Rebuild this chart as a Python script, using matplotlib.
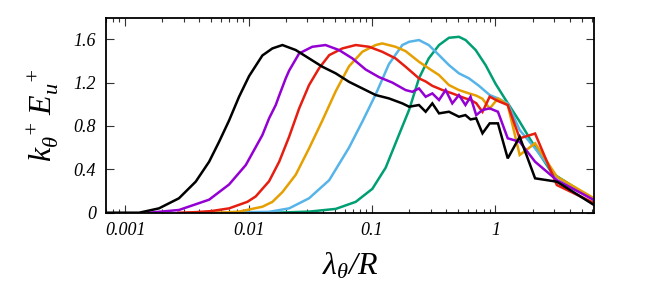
import numpy as np
import matplotlib
matplotlib.use("Agg")
import matplotlib.pyplot as plt
from matplotlib.ticker import FixedLocator, FixedFormatter, LogLocator, NullFormatter

# ---------------- data ----------------
black_lam = [0.0007, 0.0013, 0.00188, 0.00273, 0.00373, 0.00479, 0.00577, 0.00695, 0.00838,
             0.0101, 0.01294, 0.0156, 0.0188, 0.0241, 0.0309, 0.0396, 0.0508, 0.0651,
             0.0835, 0.107, 0.137, 0.176, 0.20, 0.24, 0.272, 0.308, 0.349, 0.42, 0.506,
             0.571, 0.628, 0.698, 0.785, 0.898, 1.047, 1.257, 1.571, 2.094, 3.142, 6.283]
black_E = [0.0, 0.0, 0.04, 0.133, 0.286, 0.47, 0.654, 0.85, 1.07,
           1.26, 1.45, 1.515, 1.546, 1.50, 1.423, 1.346, 1.285, 1.207,
           1.146, 1.085, 1.054, 1.008, 0.977, 0.993, 0.931, 1.008, 0.916, 0.931, 0.885,
           0.90, 0.86, 0.87, 0.732, 0.824, 0.824, 0.501, 0.70, 0.317, 0.286, 0.071]

purple_lam = [0.00156, 0.00273, 0.00479, 0.00695, 0.0095, 0.01294, 0.01466, 0.0166, 0.0177,
              0.02, 0.0213, 0.0257, 0.0328, 0.042, 0.054, 0.0693, 0.0889, 0.114, 0.146,
              0.187, 0.212, 0.24, 0.272, 0.308, 0.349, 0.395, 0.447, 0.506, 0.571, 0.628,
              0.698, 0.785, 0.898, 1.047, 1.257, 1.571, 2.094, 3.142, 6.283]
purple_E = [0.0, 0.025, 0.12, 0.26, 0.44, 0.716, 0.87, 0.993, 1.08,
            1.239, 1.31, 1.469, 1.53, 1.546, 1.50, 1.423, 1.32, 1.25, 1.20,
            1.131, 1.115, 1.146, 1.069, 1.10, 1.039, 1.131, 1.008, 1.085, 0.993, 1.069,
            0.90, 0.947, 0.962, 0.931, 0.686, 0.654, 0.47, 0.30, 0.117]

red_lam = [0.0027, 0.0037, 0.0050, 0.00695, 0.00977, 0.01143, 0.01466, 0.0177, 0.0213,
           0.0257, 0.0309, 0.0372, 0.045, 0.0576, 0.0738, 0.0946, 0.121, 0.155, 0.187,
           0.24, 0.272, 0.308, 0.372, 0.447, 0.524, 0.571, 0.628, 0.698, 0.785, 0.898,
           1.047, 1.257, 1.571, 2.094, 3.142, 6.283]
red_E = [0.0, 0.005, 0.015, 0.04, 0.10, 0.15, 0.29, 0.47, 0.70,
         0.962, 1.177, 1.331, 1.453, 1.515, 1.546, 1.53, 1.484, 1.423, 1.346,
         1.239, 1.21, 1.17, 1.131, 1.10, 1.07, 1.054, 1.04, 1.01, 0.93, 1.07,
         1.03, 0.993, 0.686, 0.73, 0.255, 0.09]

orange_lam = [0.0038, 0.0065, 0.00838, 0.01294, 0.0156, 0.0188, 0.0241, 0.0309, 0.0396,
              0.0508, 0.0651, 0.0835, 0.107, 0.121, 0.155, 0.187, 0.24, 0.288, 0.349,
              0.42, 0.506, 0.61, 0.698, 0.785, 0.898, 1.047, 1.257, 1.571, 2.094, 3.142, 6.283]
orange_E = [0.0, 0.003, 0.01, 0.055, 0.10, 0.19, 0.35, 0.593, 0.85,
            1.12, 1.35, 1.484, 1.546, 1.561, 1.53, 1.49, 1.392, 1.331, 1.269,
            1.177, 1.131, 1.10, 1.08, 1.05, 0.96, 1.054, 0.993, 0.532, 0.64, 0.332, 0.133]

blue_lam = [0.0055, 0.0147, 0.0213, 0.0309, 0.045, 0.0651, 0.0835, 0.107, 0.137,
            0.176, 0.20, 0.24, 0.288, 0.349, 0.42, 0.506, 0.61, 0.735, 0.898,
            1.047, 1.257, 1.571, 2.094, 3.142, 6.283]
blue_E = [0.0, 0.008, 0.04, 0.133, 0.30, 0.60, 0.84, 1.09, 1.37,
          1.546, 1.576, 1.592, 1.546, 1.453, 1.361, 1.285, 1.239, 1.17, 1.085,
          1.054, 1.008, 0.762, 0.593, 0.332, 0.117]

green_lam = [0.0166, 0.0309, 0.0508, 0.0738, 0.1006, 0.129, 0.1655, 0.20, 0.24,
             0.288, 0.349, 0.42, 0.506, 0.573, 0.691, 0.833, 1.0, 1.21, 1.55,
             2.0, 2.87, 6.283]
green_E = [0.0, 0.01, 0.035, 0.10, 0.22, 0.415, 0.72, 0.95, 1.239,
           1.423, 1.546, 1.613, 1.622, 1.592, 1.50, 1.36, 1.19, 1.04, 0.85,
           0.64, 0.365, 0.12]

xtick_vals = [0.001, 0.01, 0.1, 1]
xtick_labels = ["0.001", "0.01", "0.1", "1"]
ytick_vals = [0, 0.4, 0.8, 1.2, 1.6]
ytick_labels = ["0", "0.4", "0.8", "1.2", "1.6"]

series = [
    (green_lam, green_E, "#009e73"),
    (blue_lam, blue_E, "#56b4e9"),
    (orange_lam, orange_E, "#e69f00"),
    (red_lam, red_E, "#e51e10"),
    (purple_lam, purple_E, "#9400d3"),
    (black_lam, black_E, "#000000"),
]

# ---------------- style ----------------
plt.rcParams['font.family'] = ['Liberation Serif', 'DejaVu Serif']
plt.rcParams['font.style'] = 'italic'
plt.rcParams['mathtext.fontset'] = 'custom'
plt.rcParams['mathtext.rm'] = 'Liberation Serif'
plt.rcParams['mathtext.it'] = 'Liberation Serif:italic'

fig = plt.figure(figsize=(6.54, 2.99), dpi=100)
ax = fig.add_axes([106/654, 1 - 212.7/299, (594 - 106)/654, (212.7 - 17.5)/299])

for lam, E, c in series:
    ax.plot(lam, E, color=c, lw=1.8, solid_joinstyle='miter')

ax.set_xscale('log')
ax.set_xlim(0.0007, 2*np.pi)
ax.set_ylim(0, 1.8)

ax.xaxis.set_major_locator(FixedLocator(xtick_vals))
ax.xaxis.set_major_formatter(FixedFormatter(xtick_labels))
ax.xaxis.set_minor_locator(LogLocator(base=10, subs=np.arange(2, 10)))
ax.xaxis.set_minor_formatter(NullFormatter())
ax.yaxis.set_major_locator(FixedLocator(ytick_vals))
ax.yaxis.set_major_formatter(FixedFormatter(ytick_labels))

ax.tick_params(which='both', direction='in', top=True, right=True, width=0.8, color='#333333')
ax.tick_params(which='major', length=6)
ax.tick_params(which='minor', length=3)
ax.tick_params(axis='both', which='major', labelsize=13, pad=7)

for sp in ax.spines.values():
    sp.set_linewidth(1.3)

fig.text(43/654, 1 - 115/299, r'$k_{\mathrm{\theta}}^{\ +}\,E_{u}^{\ +}$', rotation=90,
         ha='center', va='center', fontsize=23)
fig.text(350/654, 1 - 266/299, r'$\mathrm{\lambda}_{\mathrm{\theta}}/R$',
         ha='center', va='center', fontsize=23)

fig.savefig('out.png', dpi=100)
